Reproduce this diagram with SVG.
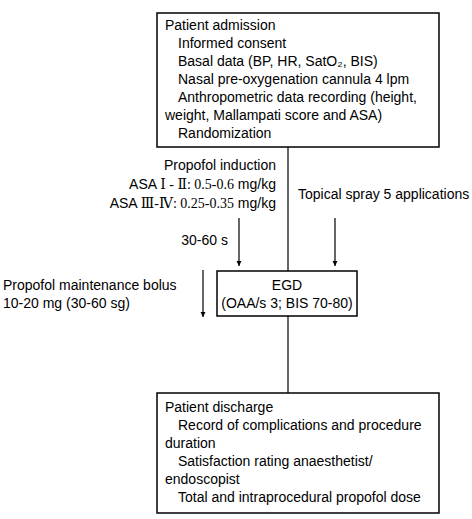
<svg xmlns="http://www.w3.org/2000/svg" width="472" height="519" viewBox="0 0 472 519">
<defs>
<style>
text{font-family:"Liberation Sans",Arial,sans-serif;font-size:14px;fill:#000}
.box{fill:#fff;stroke:#000;stroke-width:1.5}
.ln{stroke:#000;stroke-width:1.2;fill:none}
.ser{font-family:"Liberation Serif","DejaVu Serif","Noto Sans CJK SC",serif;font-size:14px}
.e{text-anchor:end}
.m{text-anchor:middle}
</style>
<marker id="ah" viewBox="0 0 10 10" refX="10" refY="5" markerWidth="5" markerHeight="8" markerUnits="userSpaceOnUse" orient="auto">
<path d="M0,0 L10,5 L0,10 z" fill="#000"/>
</marker>
</defs>
<rect width="472" height="519" fill="#fff"/>
<g id="connectors">
<line class="ln" x1="288" y1="147" x2="288" y2="271"/>
<line class="ln" x1="288" y1="316" x2="288" y2="393"/>
<line class="ln" x1="239" y1="218" x2="239" y2="266" marker-end="url(#ah)"/>
<line class="ln" x1="335" y1="218" x2="335" y2="266" marker-end="url(#ah)"/>
<line class="ln" x1="203" y1="270" x2="203" y2="317" marker-end="url(#ah)"/>
</g>
<g id="admission">
<rect class="box" x="157" y="13" width="282" height="134"/>
<text x="165" y="30">Patient admission</text>
<text x="178" y="48">Informed consent</text>
<text x="178" y="66">Basal data (BP, HR, SatO₂, BIS)</text>
<text x="178" y="84">Nasal pre-oxygenation cannula 4 lpm</text>
<text x="178" y="102">Anthropometric data recording (height,</text>
<text x="165" y="120">weight, Mallampati score and ASA)</text>
<text x="178" y="138">Randomization</text>
</g>
<g id="induction-label">
<text class="e" x="276" y="170">Propofol induction</text>
<text class="e" x="276" y="189">ASA <tspan class="ser">Ⅰ - Ⅱ: 0.5-0.6</tspan> mg/kg</text>
<text class="e" x="276" y="208">ASA <tspan class="ser">Ⅲ-Ⅳ: 0.25-0.35</tspan> mg/kg</text>
<text class="e" x="228" y="245">30-60 s</text>
</g>
<g id="spray-label">
<text x="298" y="199">Topical spray 5 applications</text>
</g>
<g id="maintenance-label">
<text x="3" y="290">Propofol maintenance bolus</text>
<text x="3" y="308">10-20 mg (30-60 sg)</text>
</g>
<g id="egd">
<rect class="box" x="217" y="271" width="140" height="45"/>
<text class="m" x="287" y="290">EGD</text>
<text class="m" x="287" y="308">(OAA/s 3; BIS 70-80)</text>
</g>
<g id="discharge">
<rect class="box" x="157" y="393" width="282" height="120"/>
<text x="165" y="412">Patient discharge</text>
<text x="178" y="430">Record of complications and procedure</text>
<text x="165" y="448">duration</text>
<text x="178" y="466">Satisfaction rating anaesthetist/</text>
<text x="165" y="484">endoscopist</text>
<text x="178" y="502">Total and intraprocedural propofol dose</text>
</g>
</svg>
